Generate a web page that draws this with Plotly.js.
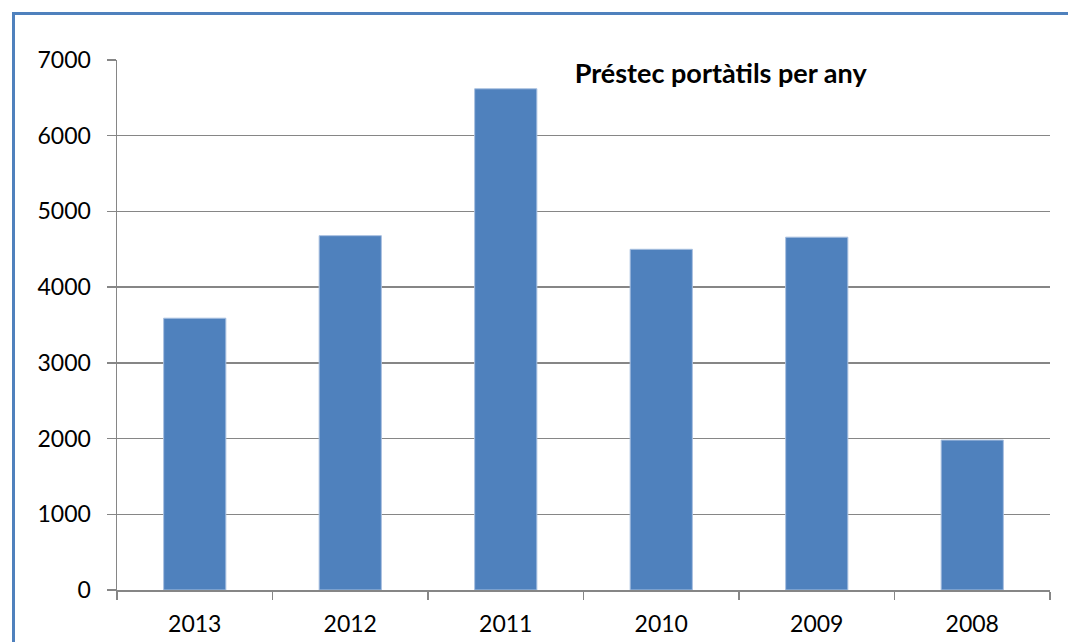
<!DOCTYPE html>
<html>
<head>
<meta charset="utf-8">
<script src="https://cdn.plot.ly/plotly-3.0.1.min.js"></script>
<style>
  html, body { margin: 0; padding: 0; background: #fff; overflow: hidden; }
  #chart { position: absolute; left: 0; top: 0; width: 1068px; height: 642px; }
  #frame { position: absolute; left: 12px; top: 12px; width: 1100px; height: 700px;
           border-top: 3px solid #4F81BD; border-left: 3px solid #4F81BD; pointer-events: none; }
</style>
</head>
<body>
<div id="chart"></div>
<div id="frame"></div>
<script>
const years = ["2013", "2012", "2011", "2010", "2009", "2008"];
const loans = [3590, 4680, 6620, 4500, 4660, 1980];
const yTicks = [0, 1000, 2000, 3000, 4000, 5000, 6000, 7000];
const chartTitle = "Préstec portàtils per any";

const font = "Lato, 'Open Sans', sans-serif";

const trace = {
  type: "bar",
  x: years,
  y: loans,
  marker: { color: "#4F81BD", line: { color: "#A9C0E0", width: 1 } },
  hoverinfo: "x+y"
};

const layout = {
  width: 1068, height: 642,
  margin: { l: 117, r: 18, t: 60, b: 52 },
  paper_bgcolor: "#ffffff", plot_bgcolor: "#ffffff",
  showlegend: false,
  bargap: 0.6,
  font: { family: font, size: 23, color: "#000" },
  title: {
    text: "<b>" + chartTitle + "</b>",
    font: { family: font, size: 27, color: "#000" },
    xref: "paper", x: 0.647, xanchor: "center",
    yref: "container", y: 0.886, yanchor: "middle"
  },
  xaxis: {
    type: "category",
    showline: true, linecolor: "#868686", linewidth: 1.5,
    ticks: "outside", ticklen: 8, tickcolor: "#868686", tickwidth: 1.5,
    tickson: "boundaries",
    showgrid: false,
    ticklabelstandoff: 13,
    tickfont: { family: font, size: 23, color: "#000" }
  },
  yaxis: {
    range: [0, 7000],
    tickvals: yTicks,
    ticktext: yTicks.map(String),
    showline: true, linecolor: "#868686", linewidth: 1.5,
    ticks: "outside", ticklen: 9, tickcolor: "#868686", tickwidth: 1.5,
    showgrid: true, gridcolor: "#868686", gridwidth: 1.5,
    zeroline: false,
    ticklabelstandoff: 11,
    tickfont: { family: font, size: 23, color: "#000" }
  }
};

Plotly.newPlot("chart", [trace], layout, { displayModeBar: false, staticPlot: true });
</script>
</body>
</html>
